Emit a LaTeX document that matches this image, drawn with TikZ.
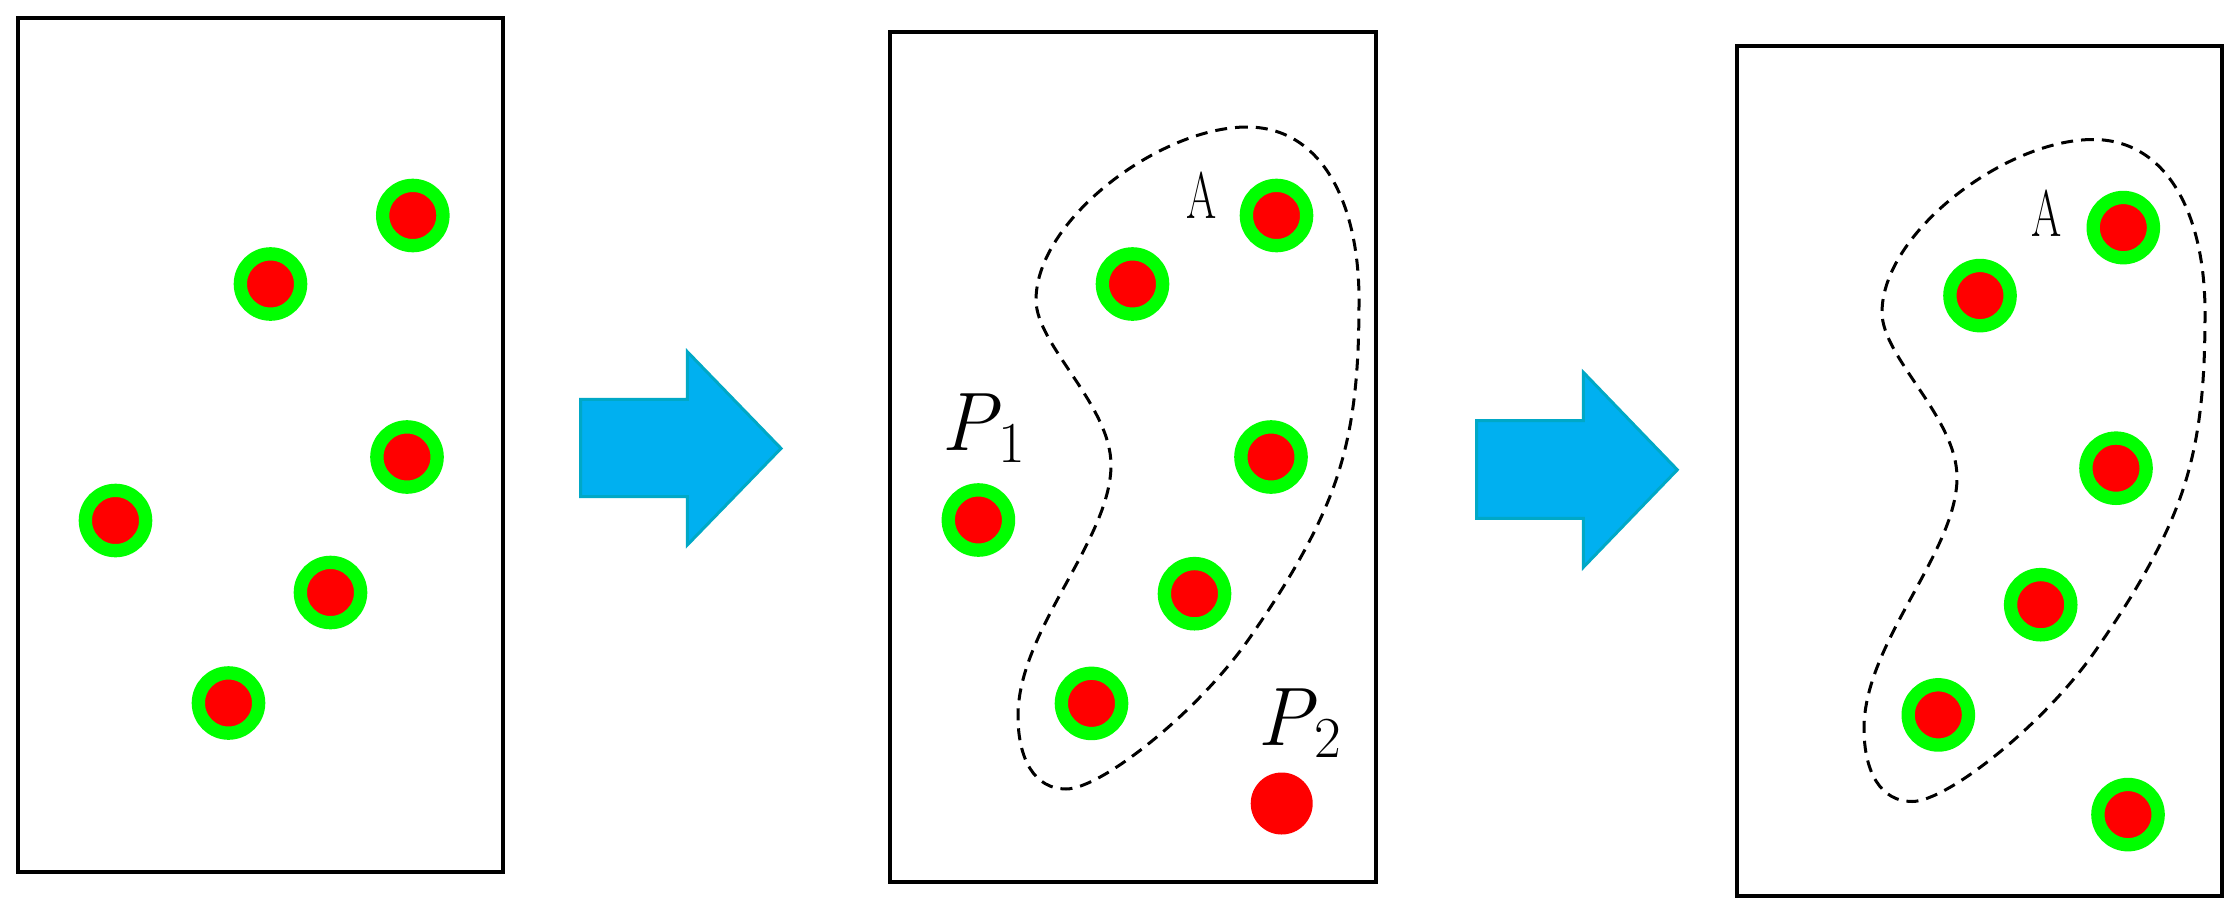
\documentclass[tikz,border=0pt]{standalone}
\usepackage{graphicx}
\definecolor{ringgreen}{RGB}{0,255,0}
\definecolor{dotred}{RGB}{255,0,0}
\definecolor{arrowfill}{RGB}{0,176,240}
\definecolor{arrowline}{RGB}{0,168,198}
\tikzset{
  frame/.style={draw=black, line width=4.5pt},
  pt/.style={circle, draw=ringgreen, fill=dotred, line width=13.3pt, minimum size=60.3pt, inner sep=0pt},
  bare/.style={circle, fill=dotred, minimum size=62pt, inner sep=0pt},
  region/.style={draw=black, line width=3pt, dash pattern=on 12pt off 8pt},
  bigarrow/.style={fill=arrowfill, draw=arrowline, line width=3pt, line join=miter},
  lbl/.style={inner sep=0pt, anchor=base west},
  alabel/.style={lbl, font=\fontsize{66}{66}\selectfont},
  plabel/.style={lbl, font=\fontsize{83}{83}\selectfont}
}
\newcommand{\narrowA}{\scalebox{0.66}[1]{A}}
\newcommand{\psub}[1]{\textit{P}\kern-2pt\raisebox{-12pt}{\fontsize{58}{58}\selectfont #1}}
\newcommand{\regionpath}{(1247,127)
  .. controls (1160,127) and (1036,220) .. (1036,300)
  .. controls (1036,345) and (1111,405) .. (1111,465)
  .. controls (1111,540) and (1018,630) .. (1018,716)
  .. controls (1018,760) and (1035,789) .. (1066,789)
  .. controls (1102,789) and (1203,708) .. (1253,633)
  .. controls (1287,584) and (1320,529) .. (1337,477)
  .. controls (1356,420) and (1359,360) .. (1359,300)
  .. controls (1359,200) and (1320,127) .. (1247,127) -- cycle}
\begin{document}
\begin{tikzpicture}[x=1pt, y=-1pt]
\useasboundingbox (0,0) rectangle (2238,916);
% ---------- panel 1 ----------
\draw[frame] (18,18) rectangle (503,872);
\node[pt] (a1) at (412.8,215.5) {};
\node[pt] (a2) at (270.5,284) {};
\node[pt] (a3) at (407,457) {};
\node[pt] (a4) at (115.5,520.5) {};
\node[pt] (a5) at (330.5,592.5) {};
\node[pt] (a6) at (228.5,703) {};
% ---------- arrow 1 ----------
\draw[bigarrow] (580.7,399.3) -- (687.3,399.3) -- (687.3,351.7) -- (781,448.4)
  -- (687.3,545) -- (687.3,496.7) -- (580.7,496.7) -- cycle;
% ---------- panel 2 ----------
\draw[frame] (890,32) rectangle (1376,882);
\draw[region] \regionpath;
\node[pt] (b1) at (1276.5,215.5) {};
\node[pt] (b2) at (1132.5,284) {};
\node[pt] (b3) at (1271,457) {};
\node[pt] (b4) at (978.4,520) {};
\node[pt] (b5) at (1194.5,593.7) {};
\node[pt] (b6) at (1091.5,703.4) {};
\node[bare] (b7) at (1281.7,803.5) {};
\node[alabel] (la2) at (1186.7,218) {\narrowA};
\node[plabel] (lp1) at (941,450) {\psub{1}};
\node[plabel] (lp2) at (1257,745) {\psub{2}};
% ---------- arrow 2 ----------
\draw[bigarrow] (1476.7,420.7) -- (1583.3,420.7) -- (1583.3,372.3) -- (1677.3,469.8)
  -- (1583.3,567.3) -- (1583.3,518.3) -- (1476.7,518.3) -- cycle;
% ---------- panel 3 ----------
\draw[frame] (1737,46) rectangle (2222,896);
\begin{scope}[shift={(846,12.5)}]
\draw[region] \regionpath;
\end{scope}
\node[pt] (c1) at (2123.3,227.6) {};
\node[pt] (c2) at (1980,295.6) {};
\node[pt] (c3) at (2116,468.2) {};
\node[pt] (c4) at (2040.7,604.7) {};
\node[pt] (c5) at (1938.3,714.9) {};
\node[pt] (c6) at (2128,814.6) {};
\node[alabel] (la3) at (2031,236) {\narrowA};
\end{tikzpicture}
\end{document}
